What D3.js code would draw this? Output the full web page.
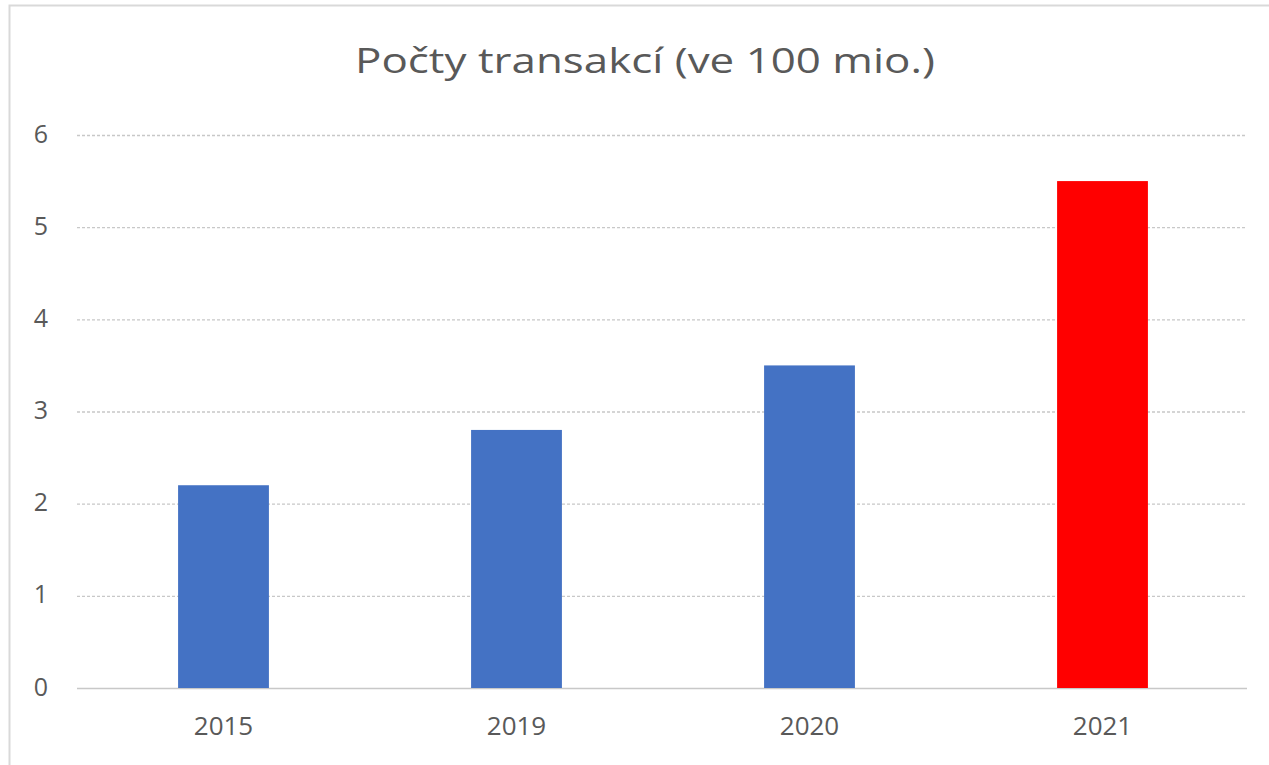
<!DOCTYPE html>
<html><head><meta charset="utf-8">
<script src="https://cdn.jsdelivr.net/npm/d3@7"></script>
<style>html,body{margin:0;padding:0;background:#fff;}svg{display:block;}</style>
</head><body>
<script>
const title = "Počty transakcí (ve 100 mio.)";
const categories = ["2015", "2019", "2020", "2021"];
const values = [2.2, 2.8, 3.5, 5.5];
const barColors = ["#4472C4", "#4472C4", "#4472C4", "#FF0000"];
const yTicks = [0, 1, 2, 3, 4, 5, 6];

const W = 1269, H = 765;
const FONT = "'Open Sans', 'Liberation Sans', sans-serif";
const svg = d3.select("body").append("svg").attr("width", W).attr("height", H);
svg.append("rect").attr("x", 0).attr("y", 0).attr("width", W).attr("height", H).attr("fill", "#fff");
// chart border
svg.append("rect").attr("x", 9.5).attr("y", 5.5).attr("width", W + 10).attr("height", H + 10)
  .attr("fill", "none").attr("stroke", "#d9d9d9").attr("stroke-width", 2);

const mLeft = 77, mRight = 1249, mTop = 135, mBottom = 688;
const x = d3.scaleBand().domain(categories).range([mLeft, mRight]).paddingInner(0.69).paddingOuter(0.345);
const y = d3.scaleLinear().domain([0, 6]).range([mBottom, mTop]);

// gridlines
const yAxis = d3.axisLeft(y).tickValues(yTicks).tickSize(-(1247 - mLeft)).tickPadding(29).tickFormat(d3.format("d"));
const gy = svg.append("g").attr("transform", `translate(${mLeft},0)`).call(yAxis);
gy.select(".domain").remove();
gy.selectAll(".tick line").attr("stroke", "#c8c8c8").attr("stroke-width", 1.3)
  .attr("stroke-dasharray", d => d === 0 ? null : "3,2");
gy.selectAll(".tick text").attr("fill", "#595959").attr("font-size", 25).attr("dy", "0.28em")
  .attr("font-family", FONT);

// bars
svg.append("g").selectAll("rect").data(categories).join("rect")
  .attr("x", d => x(d)).attr("width", x.bandwidth())
  .attr("y", (d, i) => y(values[i])).attr("height", (d, i) => y(0) - y(values[i]))
  .attr("fill", (d, i) => barColors[i]);

// x axis
const xAxis = d3.axisBottom(x).tickSize(0).tickPadding(29);
const gx = svg.append("g").attr("transform", `translate(0,${mBottom})`).call(xAxis);
gx.select(".domain").remove();
gx.selectAll(".tick text").attr("fill", "#595959").attr("font-size", 26)
  .attr("font-family", FONT);

// title
svg.append("text").attr("x", 645).attr("y", 73).attr("text-anchor", "middle")
  .attr("fill", "#595959").attr("font-size", 35)
  .attr("textLength", 580).attr("lengthAdjust", "spacingAndGlyphs")
  .attr("font-family", FONT).text(title);
</script>
</body></html>
